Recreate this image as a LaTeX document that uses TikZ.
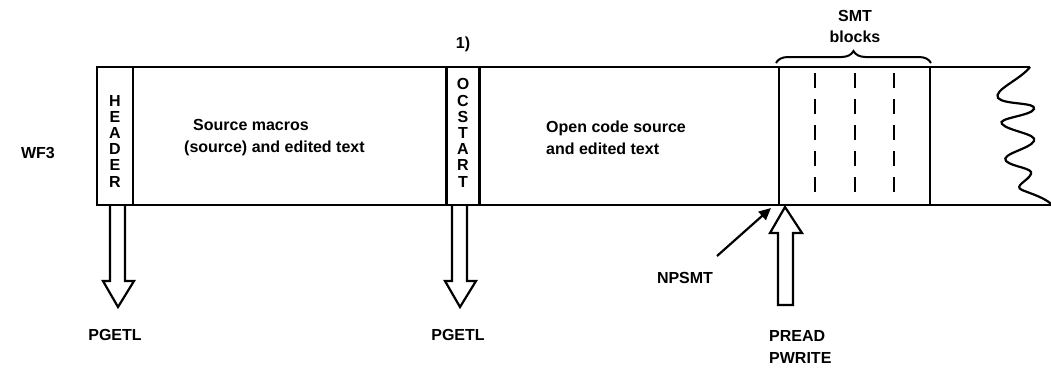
\documentclass[tikz,border=0pt]{standalone}
\usepackage{fontspec}
\setmainfont{Liberation Sans}
\usetikzlibrary{decorations.pathreplacing,arrows.meta}
\begin{document}
\begin{tikzpicture}[x=1pt,y=-1pt,
  band/.style={line width=2.5pt},
  lbl/.style={font=\bfseries\fontsize{16}{18}\selectfont, inner sep=0pt},
  vlbl/.style={font=\bfseries\fontsize{16}{16.2}\selectfont, inner sep=0pt, align=center},
  hollow/.style={line width=2.2pt, line join=miter, fill=white},
  dashln/.style={line width=2.2pt, dash pattern=on 15pt off 11pt}]
\useasboundingbox (0,0) rectangle (1051,370);
% band
\coordinate (tl) at (97,67);
\coordinate (bl) at (97,205);
\draw[band] (1030,67) -- (tl) -- (bl) -- (1051,205);
% columns
\node[draw, band, minimum width=36pt, minimum height=138pt, inner sep=0pt] (header) at (115,136) {};
\node[draw, band, minimum width=33pt, minimum height=138pt, inner sep=0pt] (ocstart) at (463,136) {};
\node[vlbl] (headertxt) at (115,141) {H\\E\\A\\D\\E\\R};
\node[vlbl] (ocstarttxt) at (463,133) {O\\C\\S\\T\\A\\R\\T};
\node[lbl] (one) at (463,44) {1)};
% SMT
\draw[band] (779,67) -- (779,205);
\draw[band] (930,67) -- (930,205);
\draw[dashln] (815,73) -- (815,200);
\draw[dashln] (855,73) -- (855,200);
\draw[dashln] (894,73) -- (894,200);
\draw[line width=2pt, decorate, decoration={brace, amplitude=12pt}] (776,63) -- (931,63);
\node[lbl, align=center] (smt) at (855,26) {SMT\\[3pt]blocks};
% wave
\draw[line width=2.2pt] (1030,67) .. controls (1020,80) and (993,90) .. (998,98)
  .. controls (1004,105) and (1037,102) .. (1034,109)
  .. controls (1031,116) and (996,118) .. (1002,124)
  .. controls (1008,131) and (1038,134) .. (1034,141)
  .. controls (1030,149) and (1000,154) .. (1006,161)
  .. controls (1012,167) and (1034,168) .. (1031,174)
  .. controls (1028,181) and (1013,186) .. (1022,190)
  .. controls (1032,194) and (1045,198) .. (1051,204);
% texts
\node[lbl, align=left] (wf3) at (38,153) {WF3};
\node[lbl, align=left, anchor=west] (src) at (184,138) {\hspace*{9pt}Source macros\\[4pt](source) and edited text};
\node[lbl, align=left, anchor=west] (open) at (546,138) {Open code source\\[4pt]and edited text};
% hollow down arrows
\draw[hollow] (110,206) -- (110,281) -- (103,281) -- (118,307) -- (134,281) -- (125,281) -- (125,206);
\draw[hollow] (452,206) -- (452,281) -- (445,281) -- (460,307) -- (476,281) -- (467,281) -- (467,206);
\node[lbl] (pgetl1) at (115,335) {PGETL};
\node[lbl] (pgetl2) at (458,335) {PGETL};
% up arrow
\draw[hollow] (778,305) -- (778,233) -- (770,233) -- (785,207) -- (802,233) -- (793,233) -- (793,305) -- cycle;
\node[lbl, align=left, anchor=west] (pread) at (769,347) {PREAD\\[4pt]PWRITE};
% NPSMT
\node[lbl] (npsmt) at (685,278) {NPSMT};
\coordinate (np) at (771,208);
\draw[line width=2.2pt, -{Triangle[length=12pt,width=11pt]}] (717,256) -- (np);
\end{tikzpicture}
\end{document}
